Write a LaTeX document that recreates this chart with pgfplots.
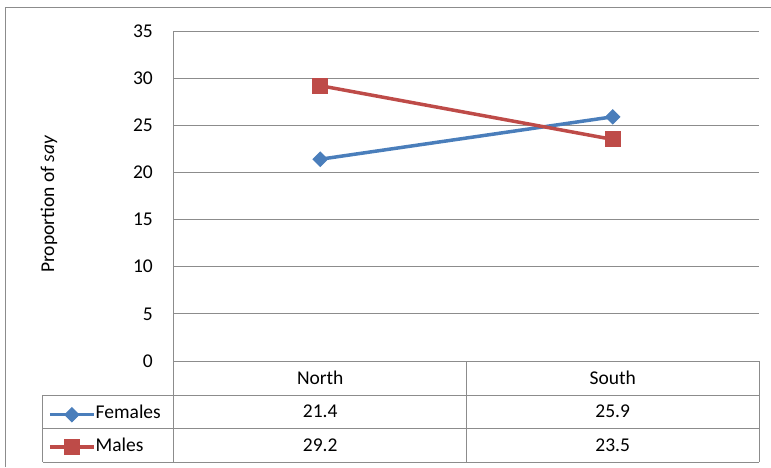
\documentclass[border=0pt]{standalone}
\usepackage{pgfplots}
\pgfplotsset{compat=1.18}
\usepackage{fontspec}
\setmainfont{Carlito}
\definecolor{fblue}{HTML}{4A7EBB}
\definecolor{mred}{HTML}{BE4B48}
\definecolor{gridc}{HTML}{8C8C8C}
\newcommand{\cf}{\fontsize{19.5}{23}\selectfont}
\begin{document}
\cf
\begin{tikzpicture}[x=1pt,y=1pt]
\useasboundingbox (-174,-106) rectangle (597,361);
\begin{axis}[
  scale only axis,
  width=585pt, height=330pt,
  at={(0,0)}, anchor=south west,
  xmin=0, xmax=2, ymin=0, ymax=35,
  ytick={0,5,...,35},
  xtick=\empty,
  axis x line*=bottom, axis y line*=left,
  axis line style={gridc, line width=1pt},
  ymajorgrids,
  grid style={gridc, line width=1pt},
  major tick length=0pt,
  /pgf/number format/assume math mode=true,
  yticklabel style={anchor=east, inner sep=0pt, xshift=-21pt, font=\cf},
  ylabel={Proportion of \textit{say}},
  ylabel style={at={(axis description cs:-0.2137,0.4758)}, anchor=center, rotate=0, font=\cf},
  clip=false,
  legend style={at={(axis description cs:-0.2154,-0.2121)}, anchor=west, draw=none, fill=none,
    inner sep=0pt, row sep=16.5pt, column sep=0pt,
    font=\cf,
    nodes={inner sep=0pt, text height=12pt, text depth=4pt}},
  legend cell align=left,
  legend image code/.code={\draw[mark repeat=2, mark phase=2] plot coordinates {(0pt,0pt)(22pt,0pt)(44pt,0pt)};},
]
\addplot[fblue, line width=3.5pt, mark=square*, mark size=5pt, mark options={rotate=45, line width=1pt, fblue, fill=fblue}] coordinates {(0.5,21.4) (1.5,25.9)};
\addlegendentry{Females}
\addplot[mred, line width=3.5pt, mark=square*, mark size=7.5pt, mark options={line width=1pt, mred, fill=mred}] coordinates {(0.5,29.2) (1.5,23.5)};
\addlegendentry{Males}
\end{axis}
% outer chart border
\draw[gridc, line width=1pt] (-168,-106) -- (-168,354) -- (597,354);
% data table grid
\begin{scope}[gridc, line width=1pt]
\draw (-131,-34) -- (585,-34);
\draw (-131,-67) -- (585,-67);
\draw (-131,-101) -- (585,-101);
\draw (-131,-34) -- (-131,-101);
\draw (0,0) -- (0,-101);
\draw (292.5,0) -- (292.5,-101);
\draw (585,0) -- (585,-101);
\end{scope}
\node at (146.25,-17) {North};
\node at (438.75,-17) {South};
\node at (146.25,-50.5) {21.4};
\node at (438.75,-50.5) {25.9};
\node at (146.25,-84) {29.2};
\node at (438.75,-84) {23.5};
\end{tikzpicture}
\end{document}
